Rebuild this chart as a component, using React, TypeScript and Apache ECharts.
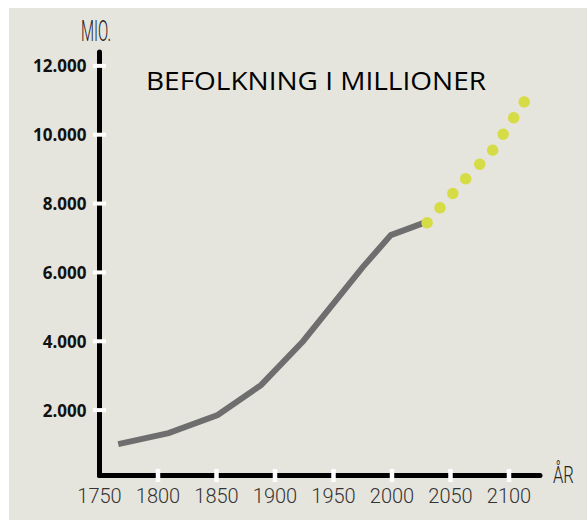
import React, { useEffect, useRef } from "react";
import * as echarts from "echarts";

// Historical population (millions)
const histYears = [1766, 1809, 1851, 1888, 1924, 1975, 1999, 2029];
const histValues = [1013, 1332, 1855, 2726, 4000, 6153, 7083, 7460];

// Projection (millions)
const projYears = [2030, 2041, 2052, 2063, 2075, 2086, 2095, 2104, 2113];
const projValues = [7440, 7876, 8294, 8718, 9145, 9552, 10016, 10490, 10954];

// Axis ticks / labels
const xLabelValues = [1750, 1800, 1850, 1900, 1950, 2000, 2050, 2100];
const xTickValues = [1800, 1850, 1900, 1950, 2000, 2050, 2100];
const yTickValues = [2000, 4000, 6000, 8000, 10000, 12000];

const titleText = "BEFOLKNING I MILLIONER";
const yUnitText = "MIO.";
const xUnitText = "ÅR";

export default function App() {
  const ref = useRef<HTMLDivElement>(null);

  useEffect(() => {
    const chart = echarts.init(ref.current!, undefined, { renderer: "svg" });
    const xMin = 1750;
    const xMax = 2126.5;
    const yMin = 100;
    const yMax = 12400;

    chart.setOption({
      animation: false,
      backgroundColor: "#e6e5dd",
      grid: { left: 90.5, right: 47, top: 44.1, bottom: 44.5, containLabel: false },
      xAxis: {
        type: "value",
        min: xMin,
        max: xMax,
        position: "bottom",
        splitLine: { show: false },
        axisLine: { show: true, onZero: false, lineStyle: { color: "#000", width: 5 } },
        axisTick: { show: false },
        axisLabel: {
          show: true,
          customValues: xLabelValues,
          margin: 10,
          color: "#333",
          fontFamily: "Roboto",
          fontWeight: 300,
          fontSize: 20,
          formatter: (v: number) => String(v),
        },
      },
      yAxis: {
        type: "value",
        min: yMin,
        max: yMax,
        position: "left",
        splitLine: { show: false },
        axisLine: { show: true, onZero: false, lineStyle: { color: "#000", width: 5 } },
        axisTick: { show: false },
        axisLabel: {
          show: true,
          customValues: yTickValues,
          margin: 13,
          color: "#111",
          fontFamily: "Open Sans",
          fontWeight: 700,
          fontSize: 17,
          formatter: (v: number) => (v / 1000).toFixed(0) + ".000",
        },
      },
      graphic: [
        {
          type: "text",
          x: 137,
          y: 73,
          scaleX: 1.12,
          style: {
            text: titleText,
            font: "500 25px 'Open Sans'",
            fill: "#000",
            align: "left",
            verticalAlign: "middle",
          },
        },
        {
          type: "text",
          x: 72,
          y: 23.5,
          scaleX: 0.52,
          style: {
            text: yUnitText,
            font: "300 29px Roboto",
            fill: "#222",
            align: "left",
            verticalAlign: "middle",
          },
        },
        {
          type: "text",
          x: 544,
          y: 467,
          scaleX: 0.72,
          style: {
            text: xUnitText,
            font: "300 23px Roboto",
            fill: "#222",
            align: "left",
            verticalAlign: "middle",
          },
        },
      ],
      series: [
        {
          type: "line",
          data: histYears.map((y, i) => [y, histValues[i]]),
          showSymbol: false,
          symbol: "none",
          lineStyle: { color: "#6e6e6e", width: 6, cap: "butt", join: "miter" },
          z: 3,
        },
        {
          type: "scatter",
          data: projYears.map((y, i) => [y, projValues[i]]),
          symbol: "circle",
          symbolSize: 11.5,
          itemStyle: { color: "#d6dc45", opacity: 1 },
          z: 4,
        },
        {
          type: "scatter",
          data: xTickValues.map((v) => [v, yMin]),
          symbol: "rect",
          symbolSize: [4.5, 13],
          clip: false,
          silent: true,
          itemStyle: { color: "#ffffff", opacity: 1 },
          z: 10,
        },
        {
          type: "scatter",
          data: yTickValues.map((v) => [xMin, v]),
          symbol: "rect",
          symbolSize: [13, 4],
          clip: false,
          silent: true,
          itemStyle: { color: "#ffffff", opacity: 1 },
          z: 10,
        },
      ],
    });

    return () => chart.dispose();
  }, []);

  return (
    <div
      style={{ position: "fixed", left: 0, top: 0, width: 587, height: 520, background: "#fff" }}
    >
      <div
        ref={ref}
        style={{ position: "absolute", left: 9, top: 8, width: 578, height: 512 }}
      />
    </div>
  );
}
